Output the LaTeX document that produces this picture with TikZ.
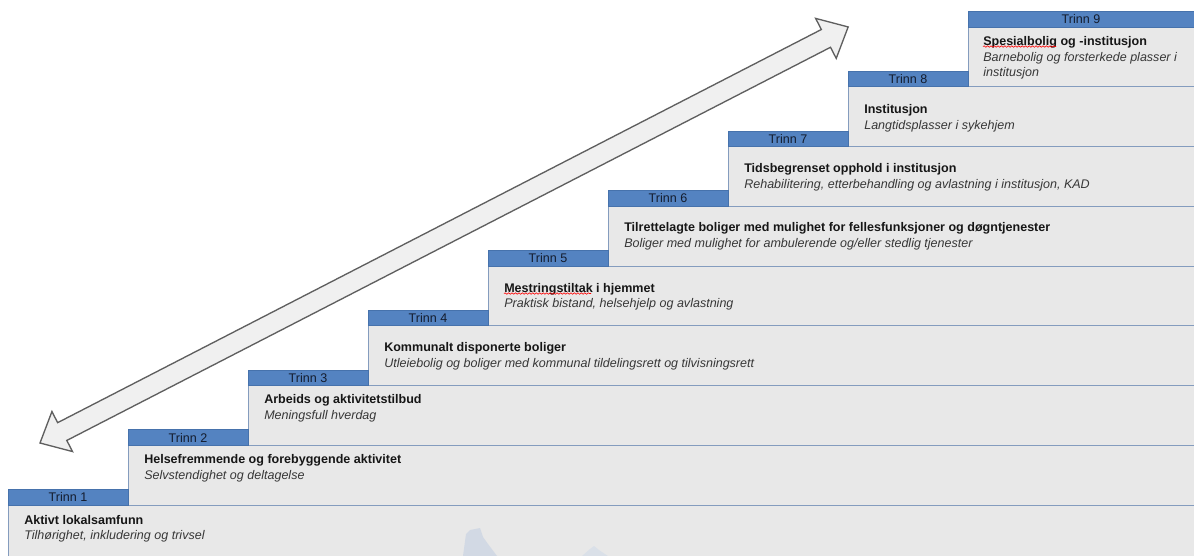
\documentclass[tikz,border=0pt]{standalone}
\usepackage{fontspec}
\setmainfont{Liberation Sans}
\usetikzlibrary{decorations.pathmorphing}

\tikzset{
  trinn/.style={fill={rgb,255:red,84;green,131;blue,193}, draw={rgb,255:red,70;green,114;blue,172}, line width=0.5pt, inner sep=0pt, minimum width=90pt, minimum height=11.6pt, text={rgb,255:red,20;green,28;blue,45}, font=\fontsize{9.4}{11}\selectfont},
  trinnbred/.style={trinn, minimum width=169.5pt},
  trappeboks/.style={fill={rgb,255:red,232;green,232;blue,232}, draw={rgb,255:red,132;green,156;blue,190}, line width=0.75pt},
  tittel/.style={anchor=west, inner sep=0pt, text={rgb,255:red,22;green,22;blue,22}, font=\fontsize{9.4}{11}\selectfont\bfseries},
  undertekst/.style={anchor=west, inner sep=0pt, align=left, text={rgb,255:red,55;green,55;blue,55}, font=\fontsize{9.4}{11.6}\selectfont\itshape},
  stavefeil/.style={draw=red, line width=0.45pt, decorate, decoration={snake, amplitude=0.55pt, segment length=2.6pt}}
}

\begin{document}
\begin{tikzpicture}[x=0.75pt,y=0.75pt,yscale=-1,xscale=1]
\useasboundingbox (0,0) rectangle (1194,556);

%Shape: Rectangle (trinn 1)
\draw [trappeboks] (8,505) rectangle (1198,562) ;
%Shape: Rectangle (trinn 2)
\draw [trappeboks] (128,445.25) rectangle (1198,505) ;
%Shape: Rectangle (trinn 3)
\draw [trappeboks] (248,385.5) rectangle (1198,445.25) ;
%Shape: Rectangle (trinn 4)
\draw [trappeboks] (368,325.75) rectangle (1198,385.5) ;
%Shape: Rectangle (trinn 5)
\draw [trappeboks] (488,266) rectangle (1198,325.75) ;
%Shape: Rectangle (trinn 6)
\draw [trappeboks] (608,206.25) rectangle (1198,266) ;
%Shape: Rectangle (trinn 7)
\draw [trappeboks] (728,146.5) rectangle (1198,206.25) ;
%Shape: Rectangle (trinn 8)
\draw [trappeboks] (848,86.75) rectangle (1198,146.5) ;
%Shape: Rectangle (trinn 9)
\draw [trappeboks] (968,27) rectangle (1198,86.75) ;

%Faint marks at the bottom
\fill [color={rgb, 255:red, 210; green, 217; blue, 228 }] (463,556) -- (466,534) -- (470,530) -- (480,528) -- (483,537) -- (488,544) -- (497,556) -- cycle ;
\fill [color={rgb, 255:red, 218; green, 224; blue, 232 }] (582,556) -- (590,549) -- (594,546) -- (599,550) -- (608,556) -- cycle ;

% Tabs
\node [trinn] (tab1) at (68,497.25) {Trinn 1};
\node [trinn] (tab2) at (188,437.5) {Trinn 2};
\node [trinn] (tab3) at (308,377.75) {Trinn 3};
\node [trinn] (tab4) at (428,318) {Trinn 4};
\node [trinn] (tab5) at (548,258.25) {Trinn 5};
\node [trinn] (tab6) at (668,198.5) {Trinn 6};
\node [trinn] (tab7) at (788,138.75) {Trinn 7};
\node [trinn] (tab8) at (908,79) {Trinn 8};
\node [trinnbred] (tab9) at (1081,19.25) {Trinn 9};

% Text Node
\node [tittel] (t1) at (24,520) {Aktivt lokalsamfunn};
\node [undertekst] (u1) at (24,536) {Tilhørighet, inkludering og trivsel};
% Text Node
\node [tittel] (t2) at (144,460) {Helsefremmende og forebyggende aktivitet};
\node [undertekst] (u2) at (144,476) {Selvstendighet og deltagelse};
% Text Node
\node [tittel] (t3) at (264,400) {Arbeids og aktivitetstilbud};
\node [undertekst] (u3) at (264,416) {Meningsfull hverdag};
% Text Node
\node [tittel] (t4) at (384,348) {Kommunalt disponerte boliger};
\node [undertekst] (u4) at (384,364) {Utleiebolig og boliger med kommunal tildelingsrett og tilvisningsrett};
% Text Node
\node [tittel] (t5) at (504,289) {Mestringstiltak i hjemmet};
\node [undertekst] (u5) at (504,304) {Praktisk bistand, helsehjelp og avlastning};
% Text Node
\node [tittel] (t6) at (624,228) {Tilrettelagte boliger med mulighet for fellesfunksjoner og døgntjenester};
\node [undertekst] (u6) at (624,244) {Boliger med mulighet for ambulerende og/eller stedlig tjenester};
% Text Node
\node [tittel] (t7) at (744,169) {Tidsbegrenset opphold i institusjon};
\node [undertekst] (u7) at (744,185) {Rehabilitering, etterbehandling og avlastning i institusjon, KAD};
% Text Node
\node [tittel] (t8) at (864,110) {Institusjon};
\node [undertekst] (u8) at (864,126) {Langtidsplasser i sykehjem};
% Text Node
\node [tittel] (t9) at (983,42) {Spesialbolig og -institusjon};
\node [undertekst] (u9) at (983,66) {Barnebolig og forsterkede plasser i\\institusjon};

%Spell check marks
\draw [stavefeil] ([yshift=-1.2pt]t9.south west) -- ++(73,0) ;
\draw [stavefeil] ([yshift=-1.2pt]t5.south west) -- ++(87,0) ;

%Double arrow
\begin{scope}[shift={(40,443)}, rotate=-27.24]
\draw [color={rgb, 255:red, 95; green, 95; blue, 95 }, fill={rgb, 255:red, 240; green, 240; blue, 240 }, line width=1pt, line join=miter]
  (0,0) -- (25,-22.5) -- (25,-10) -- (884,-10) -- (884,-22.5) -- (909,0) -- (884,22.5) -- (884,10) -- (25,10) -- (25,22.5) -- cycle ;
\end{scope}
\end{tikzpicture}
\end{document}
